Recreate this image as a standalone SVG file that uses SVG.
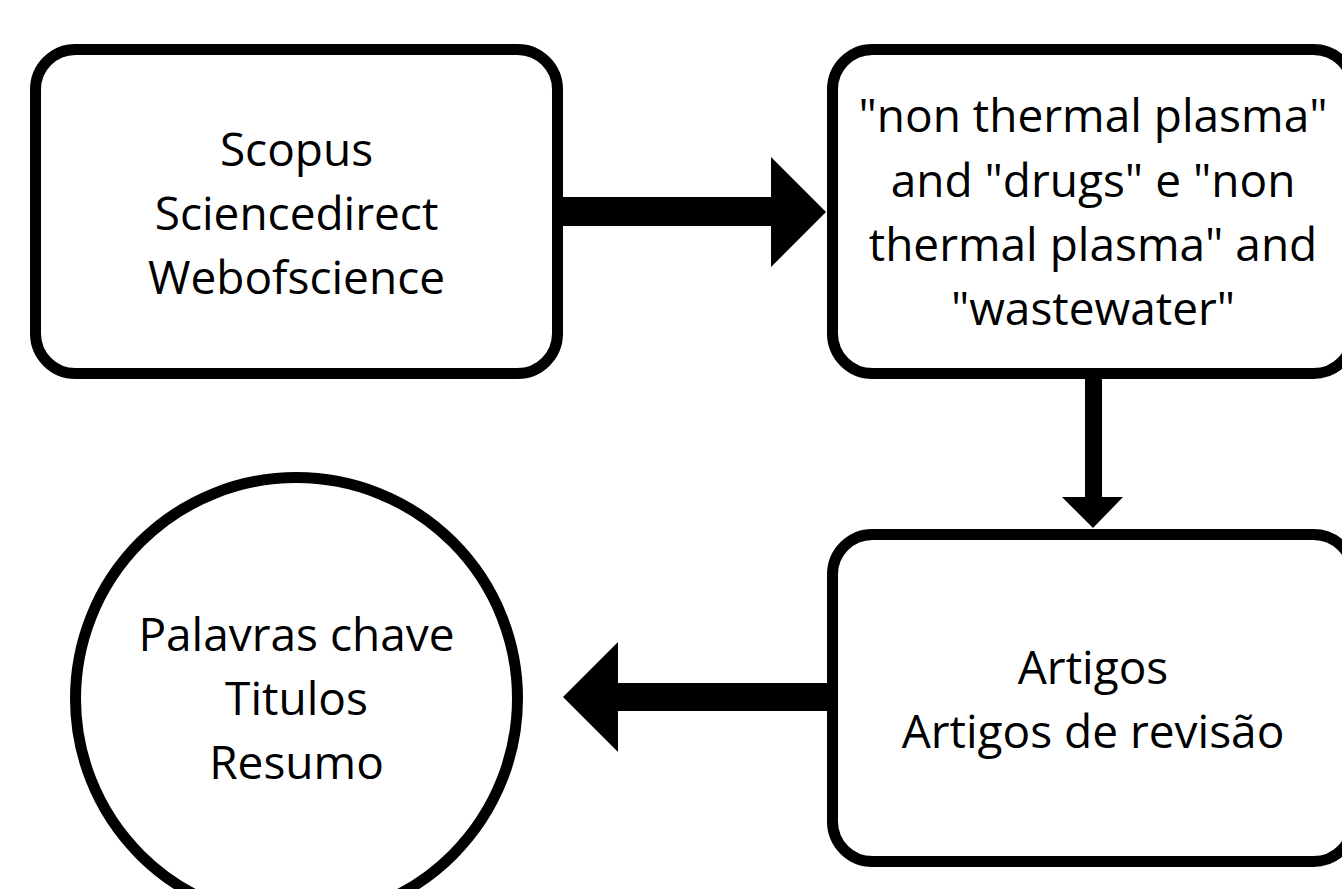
<svg xmlns="http://www.w3.org/2000/svg" width="1342" height="889" viewBox="0 0 1342 889">
  <style>
    .node { fill: #ffffff; stroke: #000000; stroke-width: 11; }
    .label { font-family: "Open Sans", "Noto Sans", "Liberation Sans", sans-serif; font-size: 46px; fill: #000000; text-anchor: middle; }
    .conn { fill: #000000; stroke: none; }
  </style>
  <rect width="1342" height="889" fill="#ffffff"/>
  <g id="connectors">
    <polygon class="conn" points="563,197 771,197 771,157 826,212 771,267 771,226 563,226"/>
    <polygon class="conn" points="1085,379 1102,379 1102,497 1123,497 1093,528 1062,497 1085,497"/>
    <polygon class="conn" points="827,683 618,683 618,642 563,697 618,752 618,711 827,711"/>
  </g>
  <g id="node-sources">
    <rect class="node" x="35.5" y="49.5" width="522" height="324" rx="40" ry="40"/>
    <text class="label" x="296.5" y="166">Scopus</text>
    <text class="label" x="296.5" y="230">Sciencedirect</text>
    <text class="label" x="296.5" y="294">Webofscience</text>
  </g>
  <g id="node-query">
    <rect class="node" x="832.5" y="49.5" width="521" height="324" rx="40" ry="40"/>
    <text class="label" x="1093" y="132">"non thermal plasma"</text>
    <text class="label" x="1093" y="197">and "drugs" e "non</text>
    <text class="label" x="1093" y="261">thermal plasma" and</text>
    <text class="label" x="1093" y="325">"wastewater"</text>
  </g>
  <g id="node-articles">
    <rect class="node" x="832.5" y="534.5" width="521" height="327" rx="40" ry="40"/>
    <text class="label" x="1093" y="684">Artigos</text>
    <text class="label" x="1093" y="748">Artigos de revisão</text>
  </g>
  <g id="node-keywords">
    <circle class="node" cx="296.5" cy="698.5" r="221"/>
    <text class="label" x="296.5" y="651">Palavras chave</text>
    <text class="label" x="296.5" y="715">Titulos</text>
    <text class="label" x="296.5" y="779">Resumo</text>
  </g>
</svg>
